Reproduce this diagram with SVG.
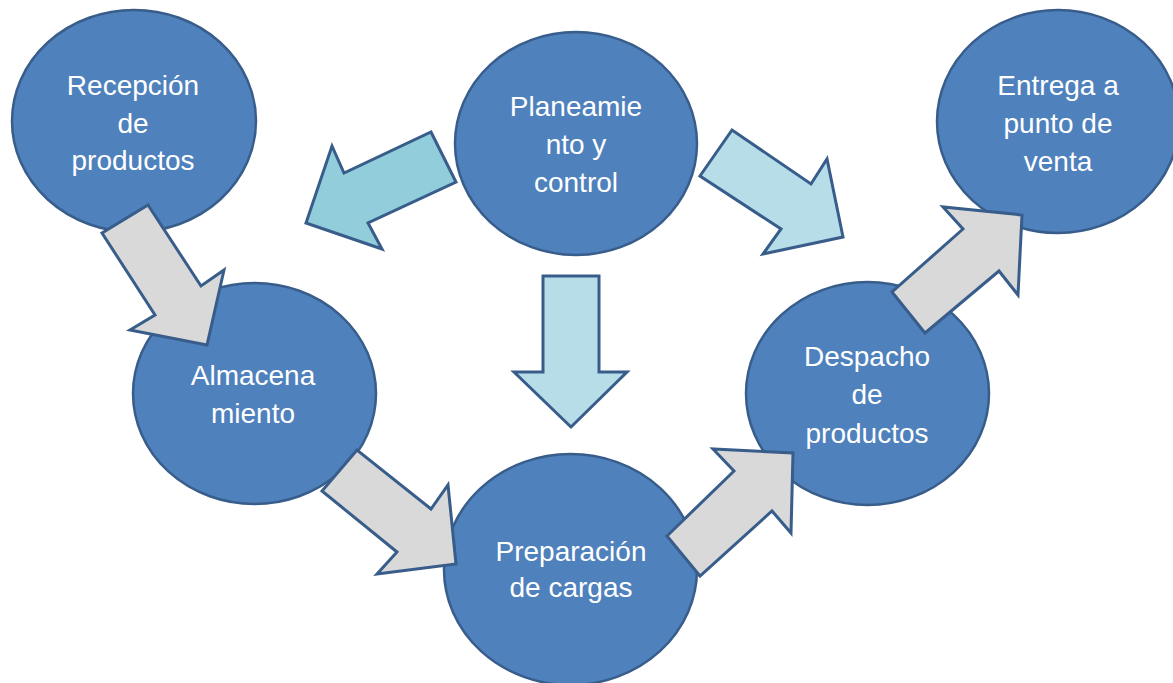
<svg xmlns="http://www.w3.org/2000/svg" width="1173" height="683" viewBox="0 0 1173 683">
<style>
.node ellipse{fill:#4F81BD;stroke:#385D8A;stroke-width:2.5}
.node text{fill:#FFFFFF;font-family:"Liberation Sans",Arial,sans-serif;font-size:28px;text-anchor:middle}
.conn polygon{stroke:#385D8A;stroke-width:3;stroke-linejoin:miter}
.gray{fill:#D9D9D9}
.blue1{fill:#92CDDC}
.blue2{fill:#B7DEE8}
</style>
<rect width="1173" height="683" fill="#FFFFFF"/>
<g id="recepcion" class="node">
<ellipse cx="134" cy="121" rx="122" ry="111"/>
<text x="133" y="95">Recepción</text>
<text x="133" y="133">de</text>
<text x="133" y="170">productos</text>
</g>
<g id="planeamiento" class="node">
<ellipse cx="576" cy="143.5" rx="121" ry="111.5"/>
<text x="576" y="116">Planeamie</text>
<text x="576" y="154">nto y</text>
<text x="576" y="192">control</text>
</g>
<g id="entrega" class="node">
<ellipse cx="1058" cy="121.5" rx="121" ry="111.5"/>
<text x="1058" y="95">Entrega a</text>
<text x="1058" y="133">punto de</text>
<text x="1058" y="171">venta</text>
</g>
<g id="almacenamiento" class="node">
<ellipse cx="254.5" cy="393.5" rx="121.5" ry="110.5"/>
<text x="253" y="385">Almacena</text>
<text x="253" y="423">miento</text>
</g>
<g id="despacho" class="node">
<ellipse cx="867.5" cy="393.5" rx="121.5" ry="111.5"/>
<text x="867" y="366">Despacho</text>
<text x="867" y="404">de</text>
<text x="867" y="443">productos</text>
</g>
<g id="preparacion" class="node">
<ellipse cx="570.5" cy="569.5" rx="126.5" ry="115.5"/>
<text x="571" y="561">Preparación</text>
<text x="571" y="597">de cargas</text>
</g>
<g id="connectors" class="conn">
<polygon class="gray" points="102,233 148,205 201,286 224,270 207,345 130,330 155,315"/>
<polygon class="gray" points="357,450 322,491 397,552 377,574 456,564 448,485 431,509"/>
<polygon class="gray" points="667,536 700,576 772,511 791,533 793,453 713,449 734,471"/>
<polygon class="gray" points="892,292 925,333 999,271 1018,295 1022,215 943,207 963,229"/>
<polygon class="blue1" points="431,132 456,182 368,223 382,249 306,223 332,146 344,173"/>
<polygon class="blue2" points="732,130 700,176 781,229 763,254 843,237 827,159 811,184"/>
<polygon class="blue2" points="543,276 599,276 599,372 627,372 571,427 514,372 543,372"/>
</g>
</svg>
